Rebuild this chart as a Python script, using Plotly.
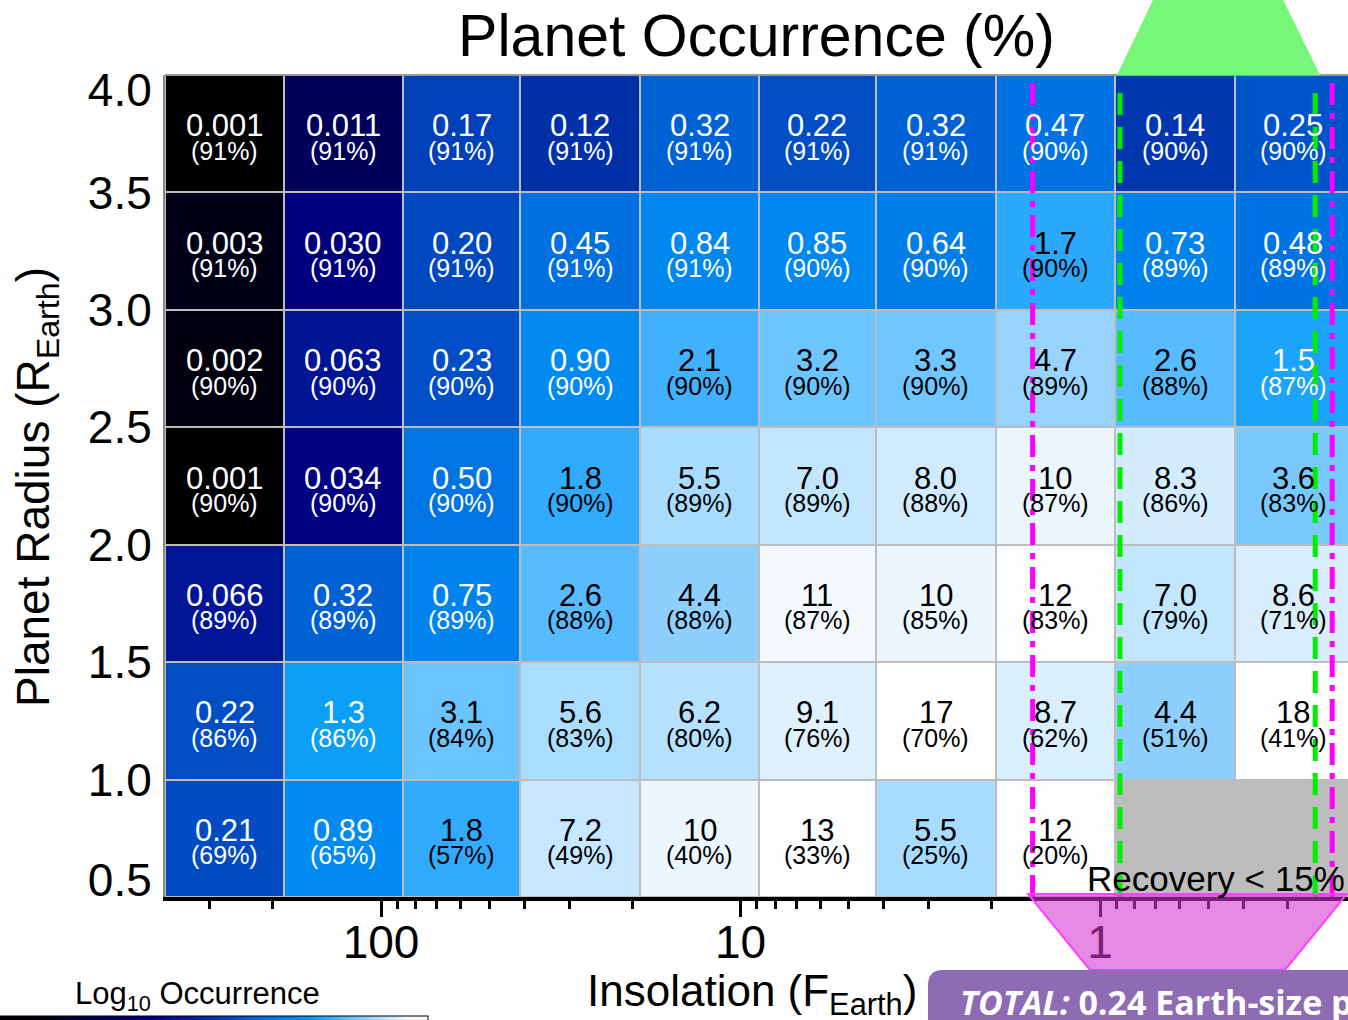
import numpy as np
import plotly.graph_objects as go

# bin edges
insolation_edges = [399, 186, 87, 41, 19, 8.9, 4.2, 1.95, 0.91, 0.42, 0.2]
radius_edges = [0.5, 1.0, 1.5, 2.0, 2.5, 3.0, 3.5, 4.0]

# occurrence (%) per cell, rows from 0.5-1.0 up to 3.5-4.0
occurrence = [
    ["0.21", "0.89", "1.8", "7.2", "10", "13", "5.5", "12", None, None],
    ["0.22", "1.3", "3.1", "5.6", "6.2", "9.1", "17", "8.7", "4.4", "18"],
    ["0.066", "0.32", "0.75", "2.6", "4.4", "11", "10", "12", "7.0", "8.6"],
    ["0.001", "0.034", "0.50", "1.8", "5.5", "7.0", "8.0", "10", "8.3", "3.6"],
    ["0.002", "0.063", "0.23", "0.90", "2.1", "3.2", "3.3", "4.7", "2.6", "1.5"],
    ["0.003", "0.030", "0.20", "0.45", "0.84", "0.85", "0.64", "1.7", "0.73", "0.48"],
    ["0.001", "0.011", "0.17", "0.12", "0.32", "0.22", "0.32", "0.47", "0.14", "0.25"],
]

# recovery (%) per cell
recovery = [
    [69, 65, 57, 49, 40, 33, 25, 20, None, None],
    [86, 86, 84, 83, 80, 76, 70, 62, 51, 41],
    [89, 89, 89, 88, 88, 87, 85, 83, 79, 71],
    [90, 90, 90, 90, 89, 89, 88, 87, 86, 83],
    [90, 90, 90, 90, 90, 90, 90, 89, 88, 87],
    [91, 91, 91, 91, 91, 90, 90, 90, 89, 89],
    [91, 91, 91, 91, 91, 91, 91, 90, 90, 90],
]

# habitable zone limits (insolation)
hz_optimistic = [1.54, 0.226]
hz_conservative = [0.88, 0.252]

x_major = [100, 10, 1]
x_minor = [400, 300, 200, 90, 80, 70, 60, 50, 40, 30, 20,
           9, 8, 7, 6, 5, 4, 3, 2, 0.9, 0.8, 0.7, 0.6, 0.5, 0.4, 0.3, 0.2]
y_tickvals = [0.572, 1.0, 1.5, 2.0, 2.5, 3.0, 3.5, 3.936]
y_ticktext = ["0.5", "1.0", "1.5", "2.0", "2.5", "3.0", "3.5", "4.0"]

# log10 colour stops
color_stops = [
    (-3.0, "#000000"), (-2.5, "#000018"), (-1.96, "#00005a"), (-1.5, "#000080"),
    (-1.2, "#001496"), (-0.92, "#0030a8"), (-0.7, "#0048c0"), (-0.5, "#0060d4"),
    (-0.35, "#0070e0"), (-0.19, "#007ee8"), (-0.07, "#0088f0"), (0.11, "#0a9ff8"),
    (0.2, "#22a6fc"), (0.32, "#40b0ff"), (0.41, "#55bbff"), (0.5, "#6cc5ff"),
    (0.64, "#8ccfff"), (0.67, "#98d4ff"), (0.74, "#a8dcff"), (0.79, "#b4e0ff"),
    (0.85, "#c4e6ff"), (0.9, "#cfeaff"), (0.95, "#dceffe"), (1.0, "#ecf6ff"),
    (1.04, "#f4f9ff"), (1.08, "#fbfdff"), (1.25, "#ffffff"),
]
zmin, zmax = -3.0, 1.25
colorscale = [[(v - zmin) / (zmax - zmin), c] for v, c in color_stops]

z = [[np.log10(float(s)) if s is not None else None for s in row] for row in occurrence]

# plot area in pixels
L, R, T, B = 165, 1348, 75, 897


def px_x(px):
    return (px - L) / (R - L)


def px_y(py):
    return (B - py) / (B - T)


FONT = "Liberation Sans, Arial, sans-serif"

fig = go.Figure()

fig.add_trace(go.Heatmap(
    x=insolation_edges,
    y=radius_edges,
    z=z,
    colorscale=colorscale,
    zmin=zmin,
    zmax=zmax,
    xgap=2,
    ygap=2,
    hoverinfo='skip',
    colorbar=dict(
        orientation='h',
        x=px_x(0), xanchor='left',
        y=px_y(1016), yanchor='top',
        len=428, lenmode='pixels',
        thickness=40,
        xpad=0, ypad=0,
        outlinecolor='black', outlinewidth=1,
        showticklabels=False, ticks='',
    ),
))

for xv in hz_optimistic:
    fig.add_trace(go.Scatter(
        x=[xv, xv], y=[radius_edges[0], radius_edges[-1]], mode='lines',
        line=dict(color='#ff00ff', width=5, dash='22px,8px,6px,8px'),
        hoverinfo='skip', showlegend=False,
    ))
for xv in hz_conservative:
    fig.add_trace(go.Scatter(
        x=[xv, xv], y=[radius_edges[0], radius_edges[-1] - 0.04], mode='lines',
        line=dict(color='#00ee00', width=5, dash='22px,12px'),
        hoverinfo='skip', showlegend=False,
    ))

annotations = []
log_edges = np.log10(insolation_edges)
for i, row in enumerate(occurrence):
    yc = (radius_edges[i] + radius_edges[i + 1]) / 2
    for j, s in enumerate(row):
        if s is None:
            continue
        xc = (log_edges[j] + log_edges[j + 1]) / 2
        color = 'white' if float(s) <= 1.5 else 'black'
        annotations.append(dict(x=xc, y=yc, xref='x', yref='y', text=s, showarrow=False,
                                xanchor='center', yanchor='middle', yshift=8,
                                font=dict(family=FONT, size=31, color=color)))
        annotations.append(dict(x=xc, y=yc, xref='x', yref='y', text=f"({recovery[i][j]}%)",
                                showarrow=False, xanchor='center', yanchor='middle', yshift=-17,
                                font=dict(family=FONT, size=25, color=color)))

annotations += [
    dict(x=px_x(1085), y=px_y(878), xref='paper', yref='paper', xanchor='left', yanchor='middle',
         text="Recovery &lt; 15%", showarrow=False, font=dict(family=FONT, size=35, color='black')),
    dict(x=px_x(752), y=px_y(994), xref='paper', yref='paper', xanchor='center', yanchor='middle',
         text="Insolation (F<sub>Earth</sub>)", showarrow=False,
         font=dict(family=FONT, size=44, color='black')),
    dict(x=px_x(36), y=px_y(487), xref='paper', yref='paper', xanchor='center', yanchor='middle',
         textangle=-90, text="Planet Radius (R<sub>Earth</sub>)", showarrow=False,
         font=dict(family=FONT, size=46, color='black')),
    dict(x=px_x(197), y=px_y(996), xref='paper', yref='paper', xanchor='center', yanchor='middle',
         text="Log<sub>10</sub> Occurrence", showarrow=False,
         font=dict(family=FONT, size=31, color='black')),
    dict(x=px_x(958), y=px_y(1002), xref='paper', yref='paper', xanchor='left', yanchor='middle',
         text="<b><i>TOTAL:</i> 0.24 Earth-size planets per star</b>", showarrow=False,
         font=dict(family="Open Sans, sans-serif", size=34, color='white')),
]


def poly(points):
    d = "M " + " L ".join(f"{px_x(a)},{px_y(b)}" for a, b in points) + " Z"
    return d


shapes = [
    # top border
    dict(type='line', xref='paper', yref='paper', x0=0, x1=1, y0=1, y1=1,
         line=dict(color='#999999', width=2), layer='above'),
    # green wedge above the plot
    dict(type='path', xref='paper', yref='paper',
         path=poly([(1117, 75), (1320, 75), (1271, -25), (1165, -25)]),
         fillcolor='#77f77a', line=dict(width=0), layer='above'),
    # pink wedge below the axis
    dict(type='path', xref='paper', yref='paper',
         path=poly([(1028, 894), (1347, 894), (1285, 970), (1090, 970)]),
         fillcolor='rgba(210,52,210,0.58)', line=dict(color='#ff40ff', width=2), layer='above'),
    # purple total box
    dict(type='path', xref='paper', yref='paper',
         path=(f"M {px_x(928)},{px_y(1040)} L {px_x(928)},{px_y(985)} "
               f"Q {px_x(928)},{px_y(970)} {px_x(943)},{px_y(970)} "
               f"L {px_x(1400)},{px_y(970)} L {px_x(1400)},{px_y(1040)} Z"),
         fillcolor='#8d6cb3', line=dict(width=0), layer='above'),
]

fig.update_layout(
    width=1348,
    height=1020,
    margin=dict(l=L, r=1348 - R, t=T, b=1020 - B, autoexpand=False),
    paper_bgcolor='white',
    plot_bgcolor='#bdbdbd',
    title=dict(text="Planet Occurrence (%)", x=0.5, xref='paper', xanchor='center',
               y=1 - 35 / 1020, yref='container', yanchor='middle',
               font=dict(family=FONT, size=59, color='black')),
    xaxis=dict(
        type='log',
        range=[np.log10(399), (1100 - 1348) / 359.5],
        tickmode='array', tickvals=x_major, ticktext=[str(v) for v in x_major],
        ticks='outside', ticklen=16, tickwidth=3, tickcolor='black',
        ticklabelstandoff=-14,
        minor=dict(tickmode='array', tickvals=x_minor, ticks='outside', ticklen=8,
                   tickwidth=3, tickcolor='black', showgrid=False),
        showline=True, linecolor='black', linewidth=4,
        showgrid=False, zeroline=False,
        tickfont=dict(family=FONT, size=46, color='black'),
    ),
    yaxis=dict(
        range=[radius_edges[0], radius_edges[-1]],
        tickmode='array', tickvals=y_tickvals, ticktext=y_ticktext,
        ticks='outside', ticklen=2, tickcolor='rgba(0,0,0,0)',
        showline=True, linecolor='#888888', linewidth=2,
        showgrid=False, zeroline=False,
        tickfont=dict(family=FONT, size=46, color='black'),
    ),
    annotations=annotations,
    shapes=shapes,
)

fig.write_html("out.html", config={'displayModeBar': False},
               post_script="document.body.style.margin = '0';")
